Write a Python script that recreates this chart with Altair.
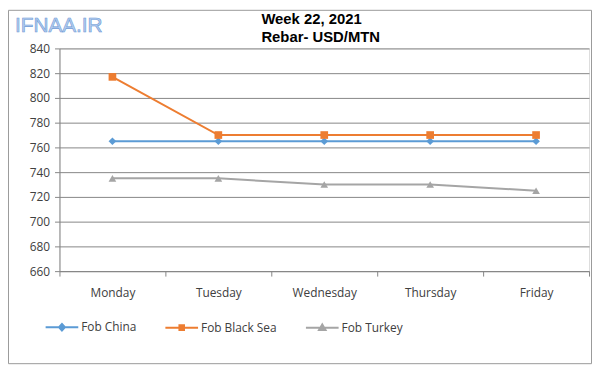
import altair as alt
import pandas as pd

days = ["Monday", "Tuesday", "Wednesday", "Thursday", "Friday"]
series_names = ["Fob China", "Fob Black Sea", "Fob Turkey"]
fob_china = [765, 765, 765, 765, 765]
fob_black_sea = [817, 770, 770, 770, 770]
fob_turkey = [735, 735, 730, 730, 725]
y_ticks = [660, 680, 700, 720, 740, 760, 780, 800, 820, 840]
title_lines = ["Week 22, 2021", "Rebar- USD/MTN"]
watermark_text = "IFNAA.IR"

colors = ["#5B9BD5", "#ED7D31", "#A5A5A5"]
shapes = ["diamond", "square", "triangle-up"]
# legend symbols: a short line with the series marker in the middle
legend_paths = [
    "M-1,0H1M0,-0.2L0.18,0L0,0.2L-0.18,0Z",
    "M-1,0H1M-0.14,-0.14H0.14V0.14H-0.14Z",
    "M-1,0H1M0,-0.2L0.2,0.14H-0.2Z",
]

rows = []
for name, vals in zip(series_names, [fob_china, fob_black_sea, fob_turkey]):
    for d, v in zip(days, vals):
        rows.append({"day": d, "series": name, "value": v})
df = pd.DataFrame(rows)


def pick(options):
    expr = "'%s'" % options[-1]
    for name, opt in reversed(list(zip(series_names[:-1], options[:-1]))):
        expr = "(datum.value === '%s' ? '%s' : %s)" % (name, opt, expr)
    return expr


W, H = 535, 225
FONT = "Open Sans"

x_enc = alt.X("day:N", sort=days, title=None,
              scale=alt.Scale(paddingInner=0, paddingOuter=0),
              axis=alt.Axis(tickBand="extent", labelAngle=0, labelFontSize=12,
                            labelColor="#404040", labelPadding=12, tickSize=5,
                            tickColor="#868686", domainColor="#868686",
                            labelFont=FONT))
y_enc = alt.Y("value:Q", title=None,
              scale=alt.Scale(domain=[660, 840], nice=False, zero=False),
              axis=alt.Axis(values=y_ticks, labelFontSize=12, labelColor="#404040",
                            labelPadding=5, tickSize=5, tickColor="#868686",
                            domainColor="#868686", gridColor="#868686",
                            labelFont=FONT))

base = alt.Chart(df)

line = base.mark_line(strokeWidth=2).encode(
    x=x_enc, y=y_enc,
    color=alt.Color("series:N", sort=series_names,
                    scale=alt.Scale(domain=series_names, range=colors),
                    legend=alt.Legend(orient="none", legendX=-15, legendY=264,
                                      direction="horizontal", title=None,
                                      symbolType={"expr": pick(legend_paths)},
                                      symbolFillColor={"expr": pick(colors)},
                                      symbolSize=1089,
                                      symbolStrokeWidth=2, labelFontSize=12,
                                      labelColor="#404040", labelFont=FONT,
                                      columnPadding=25, labelOffset=2)),
)

points = base.mark_point(filled=True, opacity=1, size=60).encode(
    x=x_enc, y=y_enc,
    fill=alt.Fill("series:N", sort=series_names,
                  scale=alt.Scale(domain=series_names, range=colors),
                  legend=None),
    shape=alt.Shape("series:N", sort=series_names,
                    scale=alt.Scale(domain=series_names, range=shapes),
                    legend=None),
)

one = pd.DataFrame({"k": [0]})
border = alt.Chart(one).mark_rect(fill=None, stroke="#9a9a9a", strokeWidth=1).encode(
    x=alt.value(-51.5), x2=alt.value(W + 2.5),
    y=alt.value(-38.5), y2=alt.value(H + 93.5),
)
watermark = alt.Chart(one).mark_text(
    text=watermark_text, align="left", baseline="alphabetic", fontSize=21,
    font="Liberation Sans", fill="#b4cdef", stroke="#6d9ad6", strokeWidth=0.6,
).encode(x=alt.value(-45), y=alt.value(-17))

title1 = alt.Chart(one).mark_text(
    text=title_lines[0], align="left", baseline="alphabetic", fontSize=15,
    font="Liberation Sans", fontWeight="bold", fill="#000000",
).encode(x=alt.value(204), y=alt.value(-25))
title2 = alt.Chart(one).mark_text(
    text=title_lines[1], align="left", baseline="alphabetic", fontSize=15,
    font="Liberation Sans", fontWeight="bold", fill="#000000",
).encode(x=alt.value(204), y=alt.value(-6))

chart = alt.layer(border, line, points, watermark, title1, title2).resolve_scale(
    color="independent", fill="independent", shape="independent"
).properties(
    width=W, height=H,
    padding={"left": 52, "top": 39, "right": 3, "bottom": 94},
    autosize=alt.AutoSizeParams(type="none"),
).configure_view(stroke=None).configure(background="white")

chart.save("out.html", embed_options={"renderer": "svg", "actions": False})
